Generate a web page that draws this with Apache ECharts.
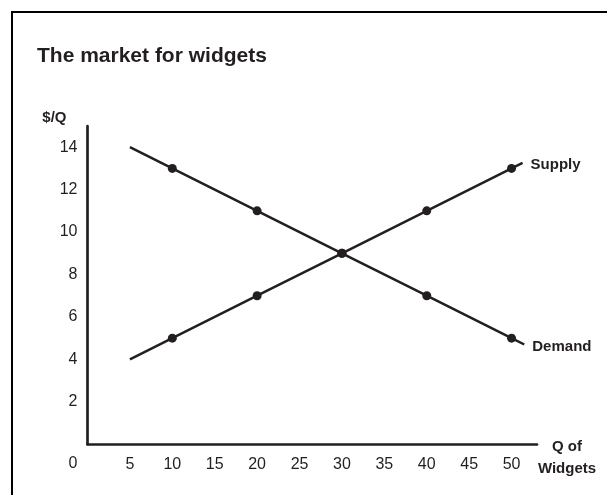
<!DOCTYPE html>
<html>
<head>
<meta charset="utf-8">
<style>
  html, body { margin: 0; padding: 0; background: #fff; }
  #chart { width: 607px; height: 495px; }
</style>
<script src="https://cdn.jsdelivr.net/npm/echarts@6/dist/echarts.min.js"></script>
</head>
<body>
<div id="chart"></div>
<script>
// ---- Data ----
const titleText = 'The market for widgets';
const yAxisName = '$/Q';
const xAxisNameLines = ['Q of', 'Widgets'];
const supplyName = 'Supply';
const demandName = 'Demand';
// Line paths (quantity, price); the interior points carry dots
const supplyQ = [5, 10, 20, 30, 40, 50, 51.3];
const supplyP = [4, 5, 7, 9, 11, 13, 13.26];
const demandQ = [5, 10, 20, 30, 40, 50, 51.5];
const demandP = [14, 13, 11, 9, 7, 5, 4.7];
const dotQ = [10, 20, 30, 40, 50];
const xTicks = [5, 10, 15, 20, 25, 30, 35, 40, 45, 50];
const yTicks = [0, 2, 4, 6, 8, 10, 12, 14];

const ink = '#231f20';
const boldFont = '"Liberation Sans", Arial, sans-serif';
const regFont = '"Liberation Sans", Arial, sans-serif';

function buildData(qs, ps) {
  return qs.map((q, i) => {
    const item = { value: [q, ps[i]] };
    if (dotQ.indexOf(q) < 0) item.symbol = 'none';
    return item;
  });
}

const chart = echarts.init(document.getElementById('chart'), null, { renderer: 'canvas' });
chart.setOption({
  animation: false,
  backgroundColor: '#fff',
  title: {
    text: titleText,
    left: 32,
    top: 41,
    textStyle: { fontFamily: boldFont, fontWeight: 'bold', fontSize: 21, color: ink }
  },
  graphic: [{
    type: 'rect',
    shape: { x: 12, y: 12, width: 700, height: 600 },
    style: { fill: 'none', stroke: '#000', lineWidth: 2 },
    silent: true
  }],
  grid: { left: 87.5, right: 70, top: 126, bottom: 50.8, containLabel: false },
  xAxis: {
    type: 'value',
    min: 0, max: 53, interval: 5,
    name: '{s| }\n{a|' + xAxisNameLines[0] + '}\n{a|' + xAxisNameLines[1] + '}',
    nameLocation: 'end',
    nameGap: 30,
    nameTextStyle: {
      fontFamily: boldFont, fontWeight: 'bold', fontSize: 15, color: ink,
      align: 'center', verticalAlign: 'middle',
      rich: {
        s: { lineHeight: 28, fontSize: 10 },
        a: { fontFamily: boldFont, fontWeight: 'bold', fontSize: 15, color: ink, lineHeight: 22, align: 'center' }
      }
    },
    axisLine: { show: true, lineStyle: { color: ink, width: 2.7 } },
    axisTick: { show: false },
    splitLine: { show: false },
    axisLabel: {
      margin: 12,
      fontFamily: regFont, fontSize: 16, color: ink,
      formatter: v => xTicks.indexOf(v) >= 0 ? String(v) : ''
    }
  },
  yAxis: {
    type: 'value',
    min: 0, max: 15, interval: 2,
    name: yAxisName,
    nameLocation: 'end',
    nameGap: 8,
    nameTextStyle: {
      fontFamily: boldFont, fontWeight: 'bold', fontSize: 15, color: ink,
      align: 'right', verticalAlign: 'middle', padding: [0, 21, 0, 0]
    },
    axisLine: { show: true, lineStyle: { color: ink, width: 2.7 } },
    axisTick: { show: false },
    splitLine: { show: false },
    axisLabel: {
      margin: 10,
      fontFamily: regFont, fontSize: 16, color: ink,
      formatter: v => {
        if (yTicks.indexOf(v) < 0) return '';
        return v === 0 ? '{z|0}' : String(v);
      },
      rich: { z: { fontFamily: regFont, fontSize: 16, color: ink, padding: [38, 0, 0, 0] } }
    }
  },
  series: [
    {
      name: supplyName,
      type: 'line',
      data: buildData(supplyQ, supplyP),
      symbol: 'circle',
      symbolSize: 9,
      showAllSymbol: true,
      itemStyle: { color: ink },
      lineStyle: { color: ink, width: 2.5 },
      endLabel: {
        show: true, formatter: supplyName, distance: 8, offset: [0, 2],
        fontFamily: boldFont, fontWeight: 'bold', fontSize: 15, color: ink
      }
    },
    {
      name: demandName,
      type: 'line',
      data: buildData(demandQ, demandP),
      symbol: 'circle',
      symbolSize: 9,
      showAllSymbol: true,
      itemStyle: { color: ink },
      lineStyle: { color: ink, width: 2.5 },
      endLabel: {
        show: true, formatter: demandName, distance: 8, offset: [0, 2],
        fontFamily: boldFont, fontWeight: 'bold', fontSize: 15, color: ink
      }
    }
  ]
});
</script>
</body>
</html>
